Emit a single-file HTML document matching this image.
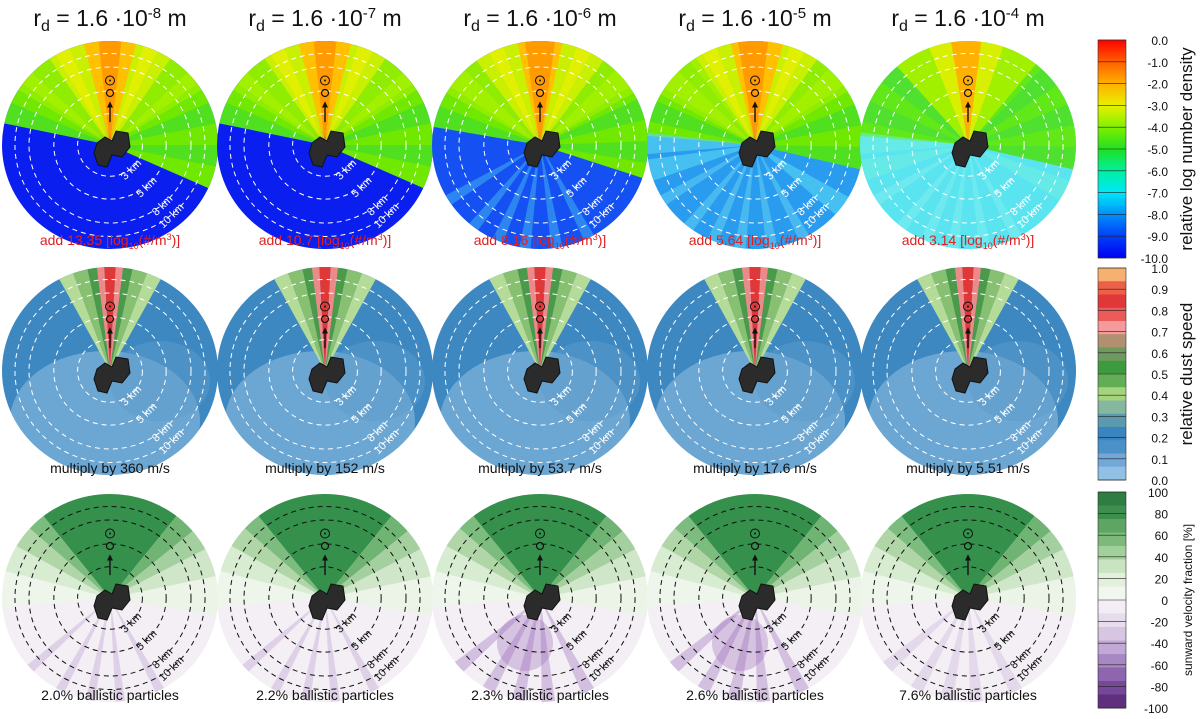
<!DOCTYPE html>
<html><head><meta charset="utf-8"><style>
html,body{margin:0;padding:0;background:#fff;width:1200px;height:719px;overflow:hidden}
svg text{font-family:"Liberation Sans","DejaVu Sans",sans-serif}
</style></head><body>
<svg id="fig" width="1200" height="719" viewBox="0 0 1200 719" xmlns="http://www.w3.org/2000/svg">
<defs>
<linearGradient id="cb1" x1="0" y1="0" x2="0" y2="1">
<stop offset="0" stop-color="#ff0000"/><stop offset="0.1" stop-color="#ff6000"/><stop offset="0.2" stop-color="#ffb000"/><stop offset="0.3" stop-color="#e8f000"/><stop offset="0.4" stop-color="#80f000"/><stop offset="0.5" stop-color="#20e020"/><stop offset="0.6" stop-color="#00f0a0"/><stop offset="0.7" stop-color="#00e8f8"/><stop offset="0.8" stop-color="#0090f8"/><stop offset="0.9" stop-color="#0040f8"/><stop offset="1" stop-color="#0000f0"/>
</linearGradient>
</defs>
</svg>
<script>
const titles=["-8","-7","-6","-5","-4"];
const densityNotes=["13.35","10.7","8.16","5.64","3.14"];
const speedNotes=["360","152","53.7","17.6","5.51"];
const ballisticNotes=["2.0","2.2","2.3","2.6","7.6"];
const densityTicks=["0.0","-1.0","-2.0","-3.0","-4.0","-5.0","-6.0","-7.0","-8.0","-9.0","-10.0"];
const speedTicks=["1.0","0.9","0.8","0.7","0.6","0.5","0.4","0.3","0.2","0.1","0.0"];
const sunwardTicks=["100","80","60","40","20","0","-20","-40","-60","-80","-100"];
const ringKm=["3 km","5 km","8 km","10 km"];
const ringFrac=[0.30,0.52,0.75,0.88];
const speedColors=["#f6b070","#ec6048","#e03838","#ec5a5a","#f49a9a","#b09070","#6e9a5e","#3e9a3e","#62ae54","#a4d47e","#86b8a0","#5a9ab0","#3a84c0","#4c90c8","#72a8d8","#90c0e4"];
const sunwardColors=["#2f7d42","#3e8e4e","#5ca563","#7cba7c","#a2d09a","#c8e4c0","#e2f0dc","#f2f6f0","#f2eef4","#e6dcec","#d6c6e2","#c2a8d4","#a888c2","#8e66ae","#76489a","#60307e"];
const bottomColor1=["#0a1ef0","#0a1ef0","#1450f2","#2a9cf0","#5ae4f0"];
const NS="http://www.w3.org/2000/svg";
const svg=document.getElementById('fig');
function mk(tag,attrs,parent){const e=document.createElementNS(NS,tag);for(const k in attrs)e.setAttribute(k,attrs[k]);(parent||svg).appendChild(e);return e;}
const cxs=[110,325,540,755,968], cys=[145,371,598], RX=108, RY=104;
function pt(cx,cy,a,f){const r=a*Math.PI/180;return [cx+Math.sin(r)*RX*f, cy-Math.cos(r)*RY*f];}
function wedge(g,cx,cy,a0,a1,col,f,op){f=f||1.05;const p0=pt(cx,cy,a0,f),p1=pt(cx,cy,a1,f);
 const e=mk('path',{d:`M${cx},${cy}L${p0[0]},${p0[1]}A${RX*f},${RY*f} 0 0 1 ${p1[0]},${p1[1]}Z`,fill:col},g);if(op)e.setAttribute('opacity',op);}
function r1col(c,a){const ad=Math.abs(a);
 if(c===4){ if(ad<8) return "#ffb000"; if(ad<20) return "#d8f000"; if(ad<40) return "#a0f000"; return (Math.round(a/12)%2)?"#60e818":"#50e030";}
 if(ad<8) return "#ff9a00"; if(ad<14) return "#ffc000"; if(ad<35) return (Math.round(a/8)%2)?"#e0f000":"#c8f000";
 if(ad<60) return (Math.round(a/10)%2)?"#a0f000":"#90ec00"; return (Math.round(a/12)%2)?"#70e800":"#50e020";}
for(let c=0;c<5;c++){
 const t=mk('text',{x:cxs[c],y:26,'font-size':23,'text-anchor':'middle',fill:'#111'});
 
 t.innerHTML=`r<tspan font-size="16" dy="5">d</tspan><tspan dy="-5"> = 1.6 ·10</tspan><tspan font-size="15" dy="-8">${titles[c]}</tspan><tspan dy="8"> m</tspan>`;
 for(let r=0;r<3;r++){
  const cx=cxs[c],cy=cys[r];
  const g=mk('g',{});
  
  
  const cid=`clip${r}${c}`;
  const cp=mk('clipPath',{id:cid},svg);mk('ellipse',{cx,cy,rx:RX,ry:RY},cp);
  const inner=mk('g',{'clip-path':`url(#${cid})`},g);
  if(r===0){
   mk('rect',{x:cx-RX,y:cy-RY,width:2*RX,height:2*RY,fill:bottomColor1[c]},inner);
   const lo=c<2?-78:(c===2?-80:-85), hi=c<2?112:(c===2?105:100);
   for(let a=lo;a<hi;a+=4) wedge(inner,cx,cy,a,a+4.5,r1col(c,a+2));
   if(c>=2){
     const sc=c===2?"#40b0f0":(c===3?"#60d0f0":"#80ecf0");
     [150,168,185,200,215,235].forEach(a=>wedge(inner,cx,cy,a,a+6,sc,1.05,0.55));
   }
   if(c===3) [120,250,265].forEach(a=>wedge(inner,cx,cy,a,a+12,"#58d8f0",1.05,0.6));
   if(c===4) [110,250,265].forEach(a=>wedge(inner,cx,cy,a,a+12,"#70f0e0",1.05,0.5));
  } else if(r===1){
   mk('rect',{x:cx-RX,y:cy-RY,width:2*RX,height:2*RY,fill:"#3d88c0"},inner);
   mk('ellipse',{cx:cx-5,cy:cy+50,rx:95,ry:70,fill:"#80b4dc",opacity:0.7},inner);
   mk('ellipse',{cx:cx+50,cy:cy+10,rx:50,ry:40,fill:"#5c9ccc",opacity:0.5},inner);
   const ws=[[-28,-20,"#b4dc98"],[-20,-12,"#86c070"],[-12,-7,"#4a9a4a"],[-7,-3,"#ec8a8a"],[-3,3,"#e03838"],[3,7,"#ec8a8a"],[7,12,"#4a9a4a"],[12,20,"#86c070"],[20,28,"#b4dc98"]];
   ws.forEach(w=>wedge(inner,cx,cy,w[0],w[1],w[2]));
  } else {
   mk('rect',{x:cx-RX,y:cy-RY,width:2*RX,height:2*RY,fill:"#f3eff5"},inner);
   const ws=[[-95,-75,"#eef6ec"],[-75,-60,"#d8ecd2"],[-60,-48,"#b0d6a8"],[-48,-38,"#7cbc7e"],[-38,38,"#35904c"],[38,50,"#70b474"],[50,62,"#a4d0a0"],[62,78,"#cfe6c8"],[78,100,"#ecf4e8"]];
   ws.forEach(w=>wedge(inner,cx,cy,w[0],w[1],w[2]));
   [150,172,188,205,225].forEach((a,i)=>wedge(inner,cx,cy,a,a+(c>=2?7:5),"#b898cc",1.05,c===4?0.25:(c>=2?0.55:0.35)));
   if(c===2||c===3) mk('ellipse',{cx:cx-15,cy:cy+45,rx:28,ry:28,fill:"#a070bc",opacity:0.35},inner);
  }
  const rc=r===2?"#111":"#fff";
  ringFrac.forEach(f=>mk('ellipse',{cx,cy,rx:RX*f,ry:RY*f,fill:'none',stroke:rc,'stroke-width':1,'stroke-dasharray':'5,4'},g));
  ringFrac.forEach((f,i)=>{const p=pt(cx,cy,140,f+0.04);
   const tt=mk('text',{x:p[0],y:p[1],'font-size':11,fill:rc,'text-anchor':'middle',transform:`rotate(-45 ${p[0]} ${p[1]})`},g);tt.textContent=ringKm[i];});
  mk('circle',{cx,cy:cy-RY*0.62,r:4.5,fill:'none',stroke:'#111','stroke-width':1},g);
  mk('circle',{cx,cy:cy-RY*0.62,r:1,fill:'#111'},g);
  mk('circle',{cx,cy:cy-RY*0.5,r:3.5,fill:'none',stroke:'#111','stroke-width':1.2},g);
  mk('line',{x1:cx,y1:cy-RY*0.22,x2:cx,y2:cy-RY*0.38,stroke:'#111','stroke-width':1.4},g);
  mk('path',{d:`M${cx-3},${cy-RY*0.36}L${cx},${cy-RY*0.42}L${cx+3},${cy-RY*0.36}Z`,fill:'#111'},g);
  mk('path',{d:`M${cx-13},${cy-2}L${cx-5},${cy-8}L${cx+2},${cy-4}L${cx+6},${cy-14}L${cx+18},${cy-12}L${cx+20},${cy+2}L${cx+12},${cy+12}L${cx+2},${cy+10}L${cx-3},${cy+22}L${cx-12},${cy+20}L${cx-16},${cy+8}Z`,fill:'#2b2b2b',stroke:'#111','stroke-width':1},g);
 }
 const n1=mk('text',{x:cxs[c],y:245,'font-size':14,'text-anchor':'middle',fill:'#e02020'});
 
 n1.innerHTML=`add ${densityNotes[c]} [log<tspan font-size="9" dy="4">10</tspan><tspan dy="-4">(#/m</tspan><tspan font-size="9" dy="-5">3</tspan><tspan dy="5">)]</tspan>`;
 const n2=mk('text',{x:cxs[c],y:473,'font-size':14,'text-anchor':'middle',fill:'#111'});
 
 n2.textContent=`multiply by ${speedNotes[c]} m/s`;
 const n3=mk('text',{x:cxs[c],y:700,'font-size':14,'text-anchor':'middle',fill:'#111'});
 
 n3.textContent=`${ballisticNotes[c]}% ballistic particles`;
}
const bx=1098,bw=28;
function bar(y0,y1,ticks,name,title,fillFn,fs){
 const g=mk('g',{});
 
 
 fillFn(g,y0,y1);
 mk('rect',{x:bx,y:y0,width:bw,height:y1-y0,fill:'none',stroke:'#333','stroke-width':0.6},g);
 ticks.forEach((t,i)=>{const y=y0+(y1-y0)*i/(ticks.length-1);
  mk('line',{x1:bx,x2:bx+bw,y1:y,y2:y,stroke:'#222','stroke-width':0.6},g);
  const tx=mk('text',{x:1168,y:y+5,'font-size':12,'text-anchor':'end',fill:'#111'},g);tx.textContent=t;});
 const my=(y0+y1)/2;
 const tt=mk('text',{x:1192,y:my,'font-size':fs,'text-anchor':'middle',fill:'#111',transform:`rotate(-90 1192 ${my})`},g);tt.textContent=title;
}
bar(40,258,densityTicks,'density-colorbar','relative log number density',(g,a,b)=>mk('rect',{x:bx,y:a,width:bw,height:b-a,fill:'url(#cb1)'},g),17);
bar(268,480,speedTicks,'speed-colorbar','relative dust speed',(g,a,b)=>{const h=(b-a)/speedColors.length;speedColors.forEach((c,i)=>mk('rect',{x:bx,y:a+i*h,width:bw,height:h+0.5,fill:c},g));},17);
bar(492,708,sunwardTicks,'sunward-colorbar','sunward velocity fraction [%]',(g,a,b)=>{const h=(b-a)/sunwardColors.length;sunwardColors.forEach((c,i)=>mk('rect',{x:bx,y:a+i*h,width:bw,height:h+0.5,fill:c},g));},12);
</script>
</body></html>
